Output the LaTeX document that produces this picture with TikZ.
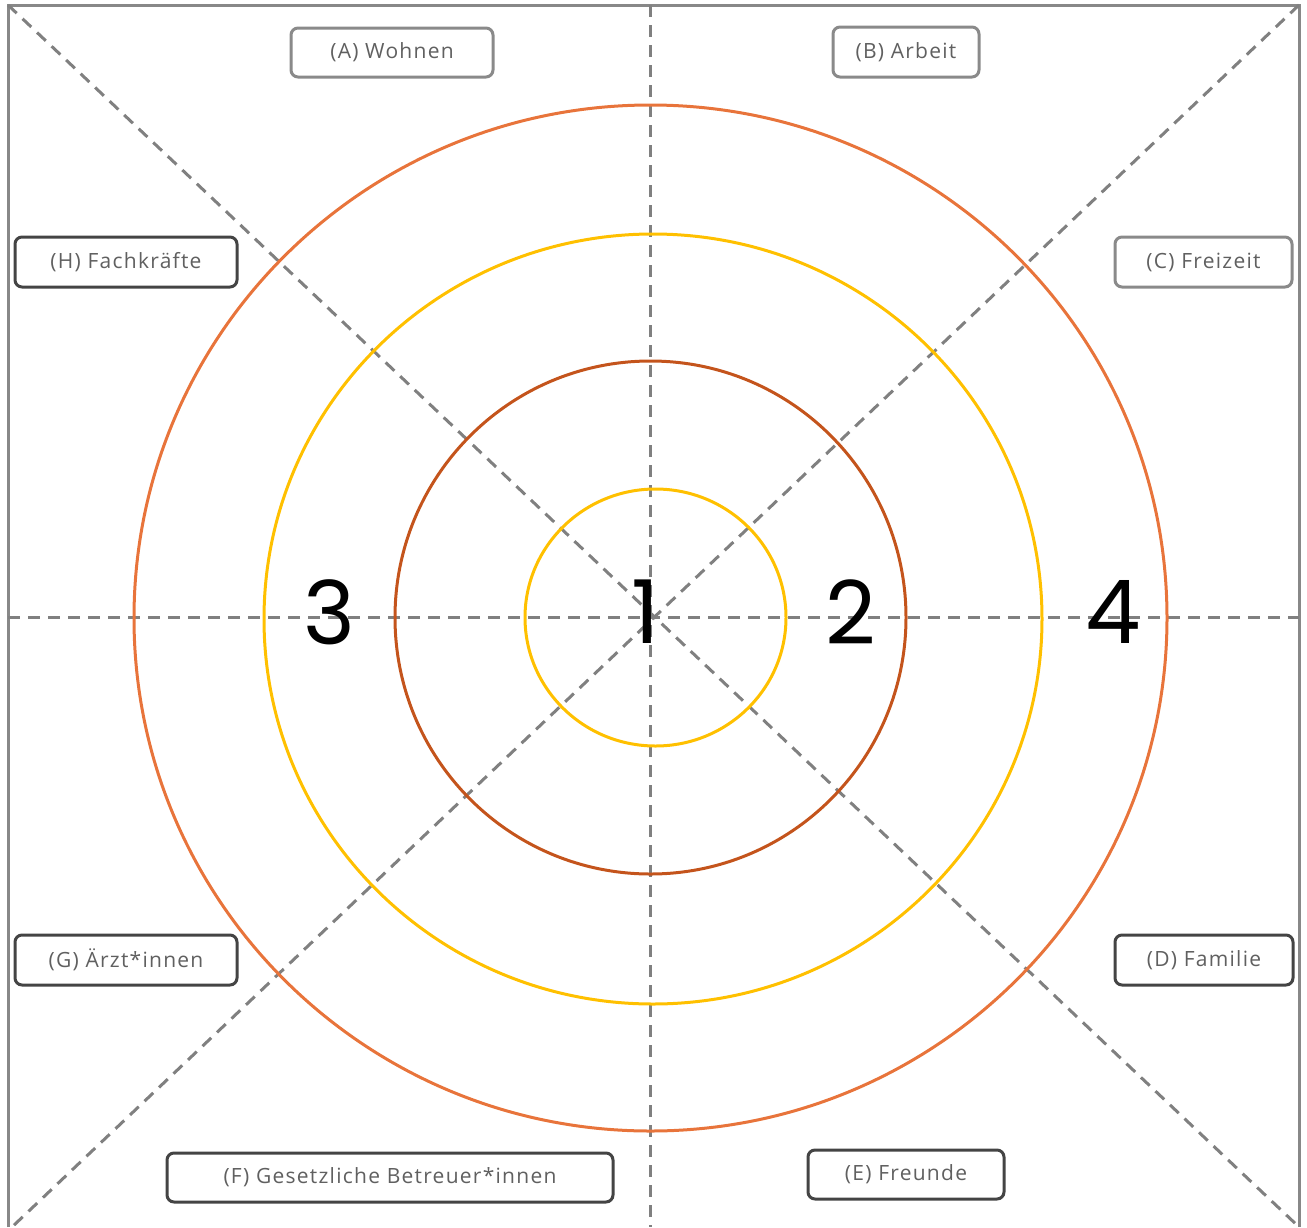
\documentclass[tikz,border=0pt]{standalone}
\usepackage{fontspec}
\setmainfont{Open Sans}[LetterSpace=6]
\newfontfamily\numfont{Poppins}
\definecolor{framegray}{HTML}{888888}
\definecolor{dashgray}{HTML}{808080}
\definecolor{lightbox}{HTML}{8A8A8A}
\definecolor{darkbox}{HTML}{444444}
\definecolor{labtext}{HTML}{606060}
\definecolor{ringorange}{HTML}{E8743B}
\definecolor{ringyellow}{HTML}{FFC000}
\definecolor{ringdark}{HTML}{C4541C}
\begin{document}
\begin{tikzpicture}[x=1pt,y=-1pt,
  lab/.style={draw, line width=3pt, rounded corners=7pt, fill=white, text=labtext,
    font=\fontsize{21}{25}\selectfont, inner sep=0pt, anchor=center},
  labl/.style={lab, draw=lightbox},
  labd/.style={lab, draw=darkbox},
  guide/.style={draw=dashgray, line width=3pt, dash pattern=on 12pt off 8pt},
  ring/.style={line width=3pt},
  num/.style={font=\numfont\fontsize{88}{90}\selectfont, text=black, inner sep=0pt, anchor=center}]
\useasboundingbox (0,0) rectangle (1307,1227);
% corners
\coordinate (tl) at (8,5);
\coordinate (tr) at (1299,5);
\coordinate (bl) at (8,1227);
\coordinate (br) at (1299,1227);
\coordinate (top) at (650,5);
\coordinate (bot) at (650,1227);
\coordinate (lft) at (8,617);
\coordinate (rgt) at (1299,617);
\coordinate (dbl) at (12,1227);
\coordinate (dbr) at (1299,1227);
% frame
\draw[framegray, line width=3pt] (bl) -- (tl) -- (tr) -- (br);
% guides
\draw[guide] (top) -- (bot);
\draw[guide] (lft) -- (rgt);
\draw[guide] (tl) -- (dbr);
\draw[guide] (tr) -- (dbl);
% rings
\draw[ring, ringorange] (650.5,618) ellipse [x radius=516.5, y radius=513];
\draw[ring, ringyellow] (653,619) ellipse [x radius=389, y radius=385];
\draw[ring, ringdark] (650.5,617.5) ellipse [x radius=255.5, y radius=256.5];
\draw[ring, ringyellow] (655.5,617.5) ellipse [x radius=130.5, y radius=128.5];
% numbers
\node[num] (n1) at (646,612) {1};
\node[num] (n2) at (851,612) {2};
\node[num] (n3) at (329,612) {3};
\node[num] (n4) at (1113,612) {4};
% labels
\node[labl, minimum width=202pt, minimum height=49pt] (A) at (392,52.5) {(A) Wohnen};
\node[labl, minimum width=146pt, minimum height=50pt] (B) at (906,52) {(B) Arbeit};
\node[labl, minimum width=177pt, minimum height=50pt] (C) at (1203.5,262) {(C) Freizeit};
\node[labd, minimum width=222pt, minimum height=50pt] (H) at (126,262) {(H) Fachkräfte};
\node[labd, minimum width=222pt, minimum height=50pt] (G) at (126,960) {(G) Ärzt*innen};
\node[labd, minimum width=178pt, minimum height=50pt] (D) at (1204,960) {(D) Familie};
\node[labd, minimum width=446pt, minimum height=49pt] (F) at (390,1177.5) {(F) Gesetzliche Betreuer*innen};
\node[labd, minimum width=196pt, minimum height=49pt] (E) at (906,1174.5) {(E) Freunde};
\end{tikzpicture}
\end{document}
